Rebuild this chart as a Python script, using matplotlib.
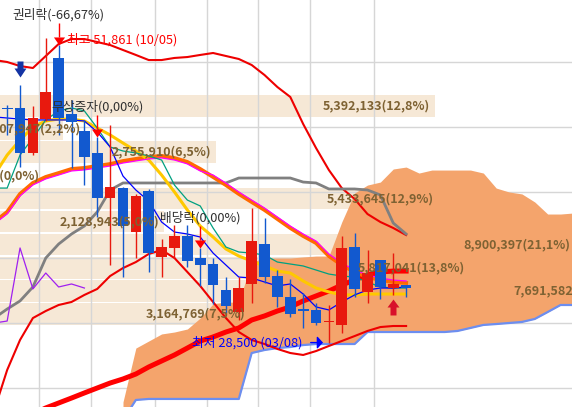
import matplotlib
matplotlib.use("Agg")
import matplotlib.pyplot as plt
import numpy as np
import pandas as pd
from matplotlib.path import Path
from matplotlib.patches import ArrowStyle

plt.rcParams['font.family'] = ['Noto Sans CJK KR', 'DejaVu Sans']

# weekly candles, first one is cut by the left edge
dates = pd.date_range("2010-09-07", periods=33, freq="7D")
opens = [44250, 46480, 46480, 43030, 45630, 50310, 46020, 44710, 43030, 39580,
         40340, 36970, 40120, 35060, 35750, 36670, 34980, 34520, 32530, 30840,
         32990, 36050, 33600, 31990, 31070, 31000, 30080, 29850, 35820, 32380,
         34830, 32680, 32910]
highs = [46320, 46700, 48240, 46630, 51861, 51300, 47090, 45560, 44250, 45170,
         40420, 39890, 40270, 36440, 37510, 37510, 35750, 34980, 33520, 33520,
         38810, 38050, 34060, 33370, 32300, 31530, 31380, 36670, 36900, 35590,
         34830, 35360, 32910]
lows = [44020, 44410, 41950, 42870, 45480, 44410, 41880, 40570, 38120, 34440,
        33520, 34980, 33910, 33520, 34980, 34290, 32840, 31460, 30770, 30230,
        31530, 33070, 31230, 30460, 29620, 29850, 28500, 29230, 31990, 31530,
        31840, 32150, 31990]
closes = [45940, 46400, 43030, 45710, 47700, 45710, 45400, 42720, 39580, 40420,
          37430, 39730, 35360, 35820, 36670, 34750, 34440, 32910, 31300, 32680,
          36280, 33520, 31990, 30690, 30920, 30000, 30150, 35750, 32610, 33830,
          32760, 32990, 32680]

# indicator lines, one value per candle
bb_upper = [50150, 50000, 49690, 49540, 50460, 51380, 51760, 51760, 51530, 51300,
            50920, 50540, 50150, 50150, 50310, 50380, 50540, 50690, 50460, 50230,
            49770, 49000, 48080, 47320, 45250, 43410, 41720, 40340, 39500, 38350,
            37740, 37280, 36740]
bb_lower = [23330, 26400, 28700, 30380, 30920, 31380, 31610, 32150, 32610, 33600,
            34210, 34670, 35290, 35590, 34980, 33910, 32840, 31610, 30380, 29310,
            28700, 28390, 28010, 27700, 27550, 27850, 28240, 28620, 29000, 29390,
            29690, 29770, 29770]
ma20 = [37740, 38510, 39890, 40730, 41190, 41490, 41800, 41880, 42030, 42180,
        42410, 42570, 42720, 42800, 42640, 42340, 41800, 41190, 40570, 39890,
        39270, 38660, 37970, 37280, 36670, 36130, 35130, 34440, 33910, 33520,
        33300, 33140, 33070]
bb_mid = [37590, 38360, 39740, 40580, 41040, 41340, 41650, 41730, 41880, 42030,
          42260, 42420, 42570, 42650, 42490, 42190, 41650, 41340, 40720, 40040,
          39420, 38810, 38120, 37430, 36820, 36280, 35280, 34590, 34060, 33670,
          33450, 33290, 33220]
ma10 = [41340, 42870, 44020, 45020, 45480, 45630, 45630, 45480, 44940, 44410,
        43790, 43180, 42490, 41340, 40040, 38660, 37430, 36590, 35670, 35130,
        34750, 34370, 33980, 33830, 33220, 32680, 32380, 32150, 32150, 32220,
        32220, 32220, 32220]
tenkan = [40340, 40340, 42870, 44180, 45560, 46250, 46480, 46250, 44940, 43490,
          43180, 43030, 42800, 42490, 40570, 39420, 38970, 37280, 35820, 35440,
          35360, 35210, 34670, 34520, 34370, 34060, 33750, 33600, 33520, 33140,
          32760, 32680, 32680]
ma5 = [45790, 45710, 45630, 45560, 45560, 45560, 45560, 45480, 44640, 43490,
       41260, 40190, 39350, 37740, 36970, 36820, 36590, 35360, 34440, 33520,
       33450, 33140, 32840, 32990, 32220, 31230, 31000, 31610, 32150, 32530,
       32680, 32680, 32760]
kijun = [30380, 31070, 31690, 32760, 34980, 36050, 36820, 37430, 38510, 40190,
         40730, 40730, 40730, 40730, 40730, 40730, 40730, 40730, 40730, 41110,
         41110, 41110, 41110, 41110, 40800, 40730, 40270, 40270, 40270, 40190,
         39810, 37660, 36820]
ma_long_start = 3
ma_long = [23030, 23490, 23870, 24250, 24640, 25020, 25400, 25710, 26090, 26630,
           27090, 27550, 28080, 28620, 28930, 29310, 29620, 30230, 30540, 30920,
           31230, 31690, 32070, 32450, 32910, 33300, 33680, 33910, 33980, 33980]

# ichimoku cloud, starts at candle 10 and runs 13 slots past the last candle
cloud_start = 10
span_a = [23950, 28080, 28620, 29160, 29310, 29540, 30380, 31460, 31610, 31610,
          34670, 34980, 34980, 34980, 35060, 35130, 35130, 37740, 39960, 40570,
          40800, 41800, 41950, 41490, 41720, 41720, 41720, 41720, 41490, 40340,
          40040, 39890, 39270, 38350, 38350, 38430]
span_b = [22570, 24100, 24180, 24180, 24180, 24180, 24180, 24180, 24180, 24180,
          27700, 27930, 28080, 28160, 28310, 28390, 28390, 28390, 28390, 29310,
          29310, 29310, 29310, 29310, 29310, 29310, 29390, 29620, 29850, 29920,
          30000, 30080, 30310, 30840, 31380, 31380]

# volume profile, lowest price band first
vp_volume = [3164769, 7691582, 5817041, 8900397, 2128943, 5433645, 0, 2755910,
             907947, 5392133]

event_idx = [5, 8, 16]
event_names = ["권리락(-66,67%)", "무상증자(0,00%)", "배당락(0,00%)"]
sell_idx = [2]
buy_idx = [31]

# layout of the original chart
PX = 76.63          # won per pixel
PXI = 1 / 12.87     # candle slots per pixel
X_LEFT, X_RIGHT = 0.443, 44.89
Y_BOTTOM, Y_TOP = 23563, 54751
VP_BOTTOM, VP_STEP = 29809, 1770
VP_X0, VP_SCALE = -0.513, 6.446e-6

RED = '#E8190E'
BLUE = '#1259CF'

down_arrow = Path(np.array([(-3, 8), (3, 8), (3, 1), (6, 1), (0, -8), (-6, 1), (-3, 1), (-3, 8)]) / 8)
up_arrow = Path(np.array([(-3, -8), (3, -8), (3, 0), (6, 0), (0, 8), (-6, 0), (-3, 0), (-3, -8)]) / 8)
flat_tri = Path([(-5.5, 4), (5.5, 4), (0, -4), (-5.5, 4)])

fig = plt.figure(figsize=(5.72, 4.07), dpi=100)
ax = fig.add_axes([0, 0, 1, 1])
ax.set_xlim(X_LEFT, X_RIGHT)
ax.set_ylim(Y_BOTTOM, Y_TOP)
ax.set_axis_off()

# grid: month boundaries and every 5,000 won
idx = np.arange(len(closes))
month_lines = [i - 0.5 for i in range(1, len(dates)) if dates[i].month != dates[i - 1].month]
for m in month_lines:
    ax.axvline(m, color='#D6D6D6', lw=1, zorder=1.5)
for p in range(25000, 55000, 5000):
    ax.axhline(p, color='#D6D6D6', lw=1, zorder=1.5)

# volume profile bars
total = sum(vp_volume)
band_centers = [VP_BOTTOM + (j + 0.5) * VP_STEP for j in range(len(vp_volume))]
ax.barh(band_centers, [v * VP_SCALE for v in vp_volume], left=VP_X0,
        height=VP_STEP - 1.5 * PX, color='#F6E8D6', zorder=1)

# cloud
cloud_x = np.arange(cloud_start, cloud_start + len(span_a))
ax.fill_between(cloud_x, span_b, span_a, color='#F4A46C', lw=0, zorder=2)
ax.plot(cloud_x, span_b, color='#6C8EF0', lw=1.6, zorder=2.1)

# lines
ax.plot(idx, bb_upper, color='#EE0000', lw=1.5, zorder=3)
ax.plot(idx, bb_lower, color='#EE0000', lw=1.5, zorder=3)
ax.plot(np.arange(ma_long_start, ma_long_start + len(ma_long)), ma_long, color='#FF0000', lw=3.6, zorder=3)
ax.plot(idx, kijun, color='#808080', lw=2, zorder=3)
ax.plot(idx, ma20, color='#FF6A00', lw=2.8, zorder=3)
ax.plot(idx, bb_mid, color='#FF00FF', lw=0.9, zorder=3.1)
ax.plot(idx, ma10, color='#FFC800', lw=2.2, zorder=3)
ax.plot(idx, tenkan, color='#00A080', lw=0.9, zorder=3.2)
ax.plot(idx, ma5, color='#0000FF', lw=0.9, zorder=3.2)
# lagging span = closes shifted back 25 slots
lag = closes[24:]
ax.plot(np.arange(-1, -1 + len(lag)), lag, color='#A020F0', lw=0.9, zorder=3.2)

# candles
cols = [RED if c >= o else BLUE for o, c in zip(opens, closes)]
ax.vlines(idx, lows, highs, colors=cols, lw=1, zorder=4)
body_low = np.minimum(opens, closes)
body_h = np.maximum(np.abs(np.subtract(closes, opens)), 1.2 * PX)
ax.bar(idx, body_h, bottom=body_low, width=0.83, color=cols, lw=0, zorder=4.1)

# corporate events
for k, name in zip(event_idx, event_names):
    h = highs[k]
    ax.text(k, h + 30 * PX, name, ha='center', va='center', fontsize=9.2,
            color='#303030', zorder=7)
    ax.vlines(k, h + 8 * PX, h + 22 * PX, colors='#FF0000', lw=1, zorder=5)
    ax.plot(k, h + 4 * PX, marker=flat_tri, ms=8, mew=0, color='#FF0000', zorder=5)

for k in sell_idx:
    ax.plot(k, highs[k] + 16 * PX, marker=down_arrow, ms=11.5, mew=0, color='#1434A4', zorder=5)
for k in buy_idx:
    ax.plot(k, lows[k] - 12 * PX, marker=up_arrow, ms=11.5, mew=0, color='#D8102A', zorder=5)

# highest / lowest
hi_k = int(np.argmax(highs))
lo_k = int(np.argmin(lows))
ax.annotate(f"최고 {highs[hi_k]:,} ({dates[hi_k]:%m/%d})", xy=(hi_k, highs[hi_k]),
            xytext=(15, -1.7), textcoords='offset points', ha='left', va='center',
            color='#FF0000', fontsize=9.2, zorder=7)
ax.annotate(f"최저 {lows[lo_k]:,} ({dates[lo_k]:%m/%d})", xy=(lo_k, lows[lo_k]),
            xytext=(-19.4, 0), textcoords='offset points', ha='right', va='center',
            color='#0000FF', fontsize=9.2, zorder=7,
            arrowprops=dict(arrowstyle=ArrowStyle('-|>', head_length=0.36, head_width=0.4),
                            color='#0000FF', lw=1, relpos=(1, 0.5), shrinkA=4.3, shrinkB=4.3))

# volume profile labels
fig.canvas.draw()
renderer = fig.canvas.get_renderer()
inv = ax.transData.inverted()
for yc, v in zip(band_centers, vp_volume):
    end = VP_X0 + v * VP_SCALE
    label = f"{v:,}({v / total * 100:.1f}%)".replace(".", ",")
    t = ax.text(end - 5 * PXI, yc, label, ha='right', va='center', fontsize=9.0,
                fontweight='bold', color='#7E6233', zorder=6)
    bb = t.get_window_extent(renderer).transformed(inv)
    w = bb.width
    if end - 5 * PXI - w < VP_X0 + 5 * PXI:
        t.set_x(VP_X0 + 5 * PXI)
        t.set_ha('left')
    elif end - 5 * PXI - w > X_RIGHT:
        t.set_x(X_RIGHT - 2 * PXI)

fig.savefig("out.png", dpi=100)
